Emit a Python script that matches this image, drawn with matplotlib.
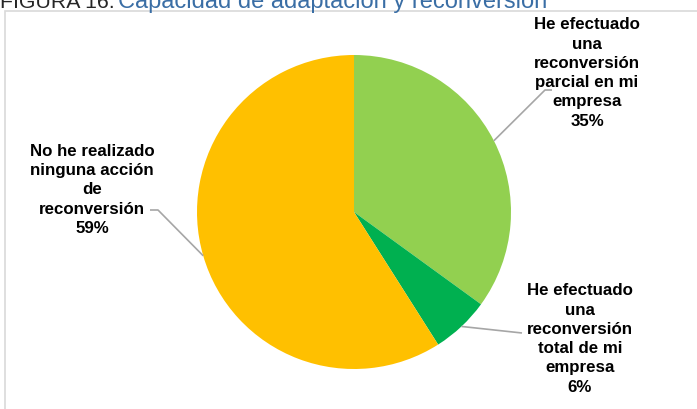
import numpy as np
import matplotlib.pyplot as plt
from matplotlib.patches import Rectangle

plt.rcParams['font.family'] = ['Liberation Sans', 'DejaVu Sans']

labels = ['He efectuado\nuna\nreconversión\nparcial en mi\nempresa',
          'He efectuado\nuna\nreconversión\ntotal de mi\nempresa',
          'No he realizado\nninguna acción\nde\nreconversión']
values = [35, 6, 59]
colors = ['#92D050', '#00B050', '#FFC000']

W, H = 697, 409
fig = plt.figure(figsize=(W / 100, H / 100), dpi=100)
ax = fig.add_axes([0, 0, 1, 1])

# chart area border (runs off the right and bottom edges)
ax.add_patch(Rectangle((4.5, -5), W, H - 11 + 5, fill=False,
                       edgecolor='#D9D9D9', linewidth=1.2))

cx, cy, r = 354, H - 212, 157
wedges, _ = ax.pie(values, colors=colors, startangle=90, counterclock=False,
                   center=(cx, cy), radius=r, frame=True,
                   wedgeprops=dict(linewidth=0))
ax.set_xlim(0, W)
ax.set_ylim(0, H)
ax.set_aspect('equal')
ax.axis('off')

# label text anchors and leader-line elbows (pixels from top-left)
label_pos = [(587, 73), (580, 339), (92, 190)]
elbows = [[(552, 90), (545, 90)], [(522, 333)], [(150, 210), (158, 210)]]

for w, v, lab, (lx, ly), elb in zip(wedges, values, labels, label_pos, elbows):
    mid = np.deg2rad((w.theta1 + w.theta2) / 2)
    px, py = cx + r * np.cos(mid), cy + r * np.sin(mid)
    pts = [(x, H - y) for x, y in elb] + [(px, py)]
    xs, ys = zip(*pts)
    ax.plot(xs, ys, color='#A6A6A6', linewidth=1.2, solid_capstyle='butt')
    ax.text(lx, H - ly, f'{lab}\n{v}%', ha='center', va='center',
            fontsize=12.2, fontweight='bold', color='#000000', linespacing=1.36)

# figure caption, mostly cut off at the top edge
fig.text(0, 1 - 8 / H, 'FIGURA 16.', fontsize=15.3, color='#262626',
         ha='left', va='baseline')
fig.text(118 / W, 1 - 8 / H, 'Capacidad de adaptación y reconversión',
         fontsize=17, color='#3A6EA5', ha='left', va='baseline')

fig.savefig('out.png', dpi=100)
